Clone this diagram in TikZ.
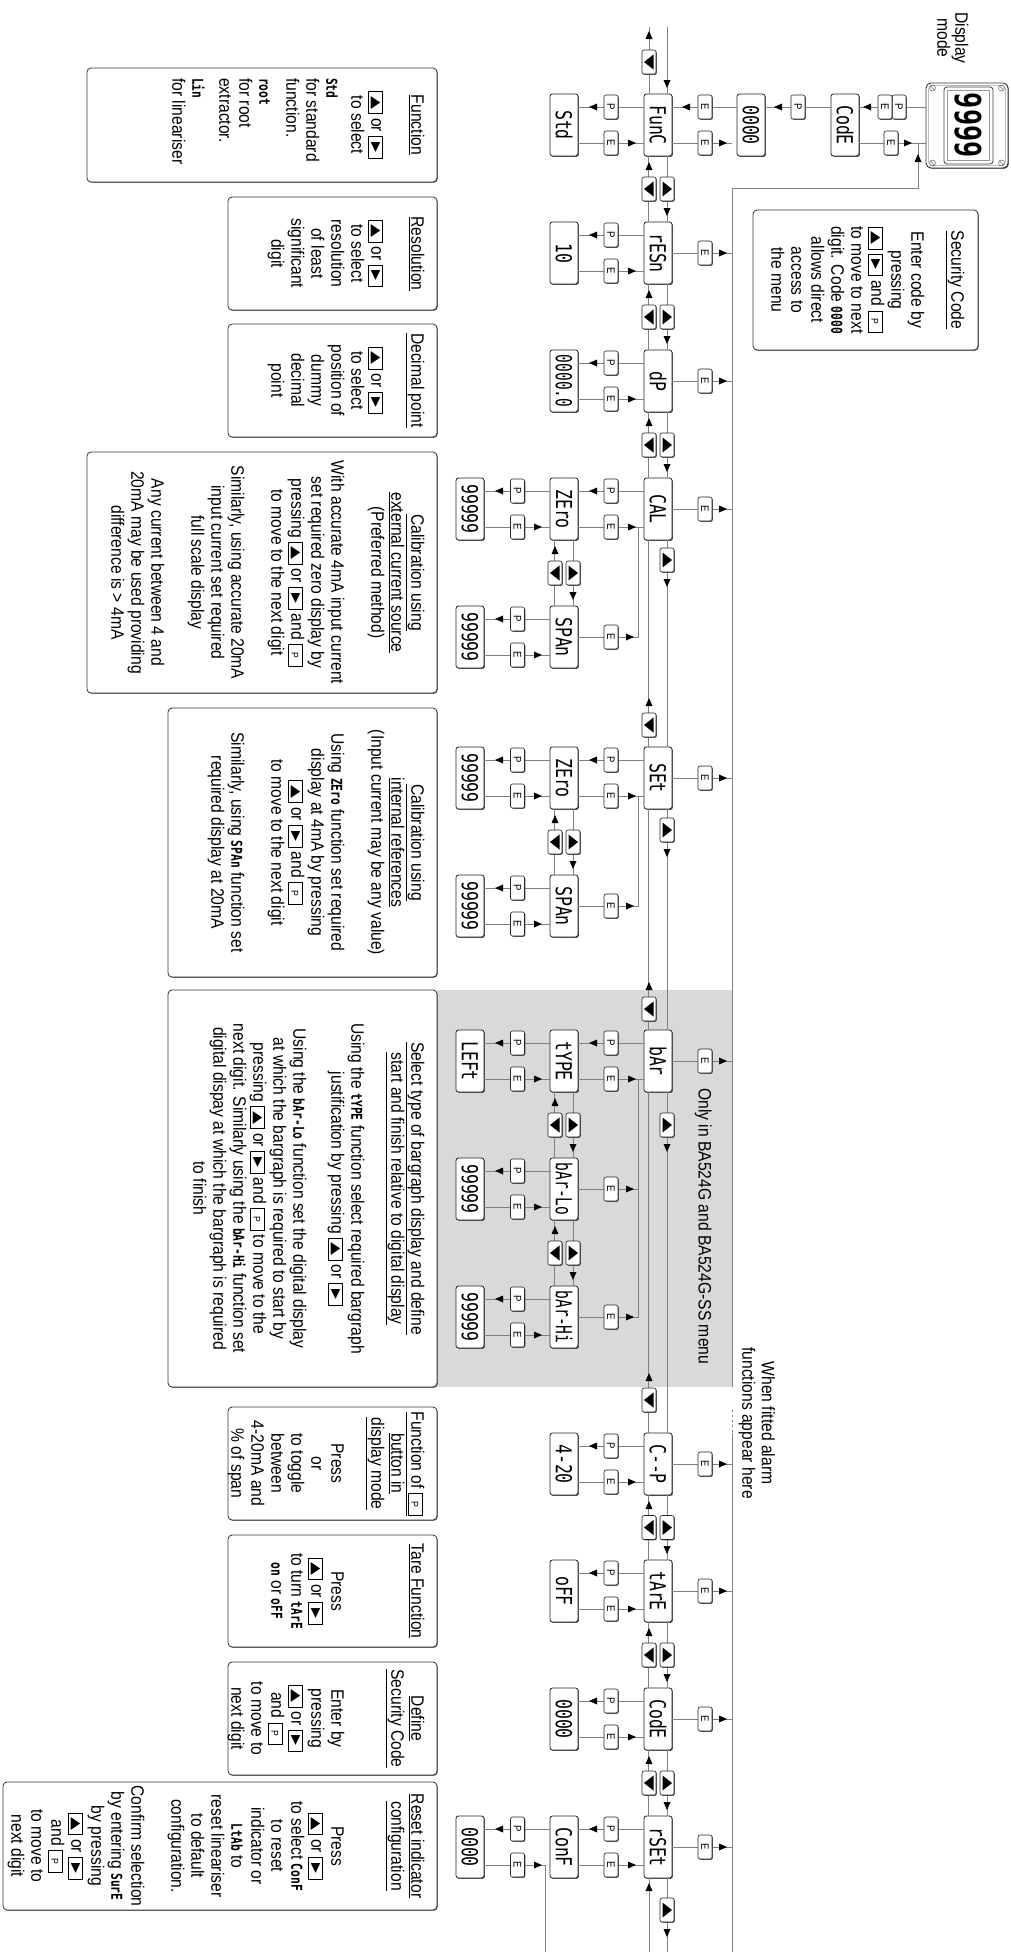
\documentclass[tikz,border=0pt]{standalone}
\usepackage{fontspec}
\usepackage{graphicx}
\setmainfont{Liberation Sans}[FakeStretch=0.87]
\newfontfamily\segfont{DejaVu Sans Mono}[FakeStretch=0.75]
\newfontfamily\symfont{DejaVu Sans}
\usetikzlibrary{calc,shadows}

\newcommand\sg[1]{{\segfont\bfseries\fontsize{15}{15}\selectfont #1}}
\newcommand\kbox[1]{{\setlength\fboxsep{1pt}\setlength\fboxrule{0.6pt}\fbox{\rule[-2pt]{0pt}{12pt}\makebox[19pt]{#1}}}}
\newcommand\ku{\kbox{\raisebox{1pt}{\resizebox{13pt}{8pt}{\symfont ▲}}}}
\newcommand\kr{\kbox{\raisebox{1pt}{\resizebox{10pt}{8pt}{\symfont ▶}}}}
\newcommand\kp{\kbox{\fontsize{10}{10}\selectfont P}}

\newcount\bcnt
\newcommand\btn[3]{\global\advance\bcnt by 1\relax
  \node[btn] (btn\the\bcnt) at ({#1},{#2}) {#3};}
\newcommand\tbtn[3]{\global\advance\bcnt by 1\relax
  \node[btn] (btn\the\bcnt) at ({#1},{#2}) {};
  \ifx u#3\fill ({#1-7.5},{#2+4.5}) -- ({#1+7.5},{#2+4.5}) -- ({#1},{#2-5}) -- cycle;
  \else\fill ({#1-7.5},{#2-4.5}) -- ({#1+7.5},{#2-4.5}) -- ({#1},{#2+5}) -- cycle;\fi}
\newcommand\tip[3]{%
  \ifx r#3\fill ({#1},{#2}) -- ({#1-8},{#2-3.5}) -- ({#1-8},{#2+3.5}) -- cycle;\fi
  \ifx l#3\fill ({#1},{#2}) -- ({#1+8},{#2-3.5}) -- ({#1+8},{#2+3.5}) -- cycle;\fi
  \ifx d#3\fill ({#1},{#2}) -- ({#1-3.5},{#2-8}) -- ({#1+3.5},{#2-8}) -- cycle;\fi
  \ifx u#3\fill ({#1},{#2}) -- ({#1-3.5},{#2+8}) -- ({#1+3.5},{#2+8}) -- cycle;\fi}
\newcommand\fwd[5]{\draw[conn] ($(#1.north east)+(0,5)$) -- ($(#2.north west)+(0,5)$);
  \tbtn{#4}{#3}{u}\tip{#5}{#3}{r}}
\newcommand\bck[5]{\draw[conn] ($(#2.south west)+(0,-5)$) -- ($(#1.south east)+(0,-5)$);
  \tbtn{#4}{#3}{d}\tip{#5}{#3}{l}}

\tikzset{
  conn/.style={draw=black!50, line width=0.75pt},
  menu/.style={draw=black!85, line width=0.8pt, fill=white, rounded corners=2.5pt,
    minimum width=62pt, minimum height=28pt, inner sep=0pt,
    font=\segfont\fontsize{22}{22}\selectfont,
    drop shadow={shadow xshift=0.9pt, shadow yshift=-0.9pt, fill=black!70, opacity=1}},
  btn/.style={draw=black!85, line width=0.6pt, fill=white, rounded corners=2pt,
    minimum width=24pt, minimum height=14pt, inner sep=0pt,
    font=\fontsize{11}{11}\selectfont,
    drop shadow={shadow xshift=0.8pt, shadow yshift=-0.8pt, fill=black!70, opacity=1}},
  txt/.style={align=center, inner sep=0pt, anchor=north, font=\fontsize{18}{20}\selectfont},
  frame/.style={draw=black!80, line width=0.8pt, rounded corners=4pt, fill=white,
    drop shadow={shadow xshift=0.8pt, shadow yshift=-0.8pt, fill=black!60, opacity=1}},
}

\begin{document}
\begin{tikzpicture}
\begin{scope}[shift={(1011pt,0pt)}, rotate=-90, transform shape, x=1pt, y=-1pt]
\path[use as bounding box] (0,0) rectangle (1952,1011);

% shaded bargraph region
\fill[black!15] (990,279) rectangle (1387,574);

% text frames
\draw[frame] (210,33) rectangle (350,258);
\draw[frame] (68,574) rectangle (182,924);
\draw[frame] (197,574) rectangle (310,783);
\draw[frame] (324,574) rectangle (437,783);
\draw[frame] (452,574) rectangle (693,924);
\draw[frame] (708,574) rectangle (977,843);
\draw[frame] (990,574) rectangle (1387,843);
\draw[frame] (1407,574) rectangle (1520,783);
\draw[frame] (1535,574) rectangle (1647,783);
\draw[frame] (1662,574) rectangle (1775,783);
\draw[frame] (1782,574) rectangle (1910,1008);

% texts
\node[txt] (tSec) at (280,46.5) {\underline{Security Code}\\[20pt] Enter code by\\ pressing\\ \ku\ \kr\ and \kp\\ to move to next\\ digit. Code \sg{0000}\\ allows direct\\ access to\\ the menu};
\node[txt] (tFun) at (125,586.5) {\underline{Function}\\[20pt] \ku\ or \kr\\ to select};
\node[txt, align=left, anchor=north west] (tFun2) at (78,673) {\sg{Std}\\ for standard\\ function.\\[7pt] \sg{root}\\ for root\\ extractor.\\[7pt] \sg{Lin}\\ for lineariser};
\node[txt] (tRes) at (253.5,586.5) {\underline{Resolution}\\[20pt] \ku\ or \kr\\ to select\\ resolution\\ of least\\ significant\\ digit};
\node[txt] (tDec) at (380.5,586.5) {\underline{Decimal point}\\[20pt] \ku\ or \kr\\ to select\\ position of\\ dummy\\ decimal\\ point};
\node[txt] (tCalE) at (572.5,586.5) {\underline{Calibration using}\\ \underline{external current source}\\ (Preferred method)\\[20pt] With accurate 4mA input current\\ set required zero display by\\ pressing \ku\ or \kr\ and \kp\\ to move to the next digit\\[20pt] Similarly, using accurate 20mA\\ input current set required\\ full scale display\\[20pt] Any current between 4 and\\ 20mA may be used providing\\ difference is > 4mA};
\node[txt] (tCalI) at (842.5,586.5) {\underline{Calibration using}\\ \underline{internal references}\\ (Input current may be any value)\\[20pt] Using \sg{ZEro} function set required\\ display at 4mA by pressing\\ \ku\ or \kr\ and \kp\\ to move to the next digit\\[20pt] Similarly, using \sg{SPAn} function set\\ required display at 20mA};
\node[txt] (tBar) at (1188.5,586.5) {\underline{Select type of bargraph display and define}\\ \underline{start and finish relative to digital display}\\[20pt] Using the \sg{tYPE} function select required bargraph\\ justification by pressing \ku\ or \kr\\[18pt] Using the \sg{bAr-Lo} function set the digital display\\ at which the bargraph is required to start by\\ pressing \ku\ or \kr\ and \kp\ to move to the\\ next digit. Similarly using the \sg{bAr-Hi} function set\\ digital dispay at which the bargraph is required\\ to finish};
\node[txt] (tFP) at (1463.5,586.5) {\underline{Function of \kp}\\ \underline{button in}\\ \underline{display mode}\\[20pt] Press\\ or\\ to toggle\\ between\\ 4-20mA and\\ \% of span};
\node[txt] (tTare) at (1591,586.5) {\underline{Tare Function}\\[60pt] Press\\ \ku\ or \kr\\ to turn \sg{tArE}\\ \sg{on} or \sg{oFF}};
\node[txt] (tDef) at (1718.5,586.5) {\underline{Define}\\ \underline{Security Code}\\[40pt] Enter by\\ pressing\\ \ku\ or \kr\\ and \kp\\ to move to\\ next digit};
\node[txt] (tRst) at (1846,586.5) {\underline{Reset indicator}\\ \underline{configuration}\\[40pt] Press\\ \ku\ or \kr\\ to select \sg{ConF}\\ to reset\\ indicator or\\ \sg{LtAb} to\\ reset lineariser\\ to default\\ configuration.\\[20pt] Confirm selection\\ by entering \sg{SurE}\\ by pressing\\ \ku\ or \kr\\ and \kp\\ to move to\\ next digit};

\node[txt, font=\fontsize{18}{18}\selectfont] (dmode) at (38,42.5) {Display\\ mode};
\node[txt, font=\fontsize{18}{19.5}\selectfont] (alarm) at (1423,236) {When fitted alarm\\ functions appear here};
\node[inner sep=0pt, anchor=base west, font=\fontsize{18}{20}\selectfont] (only) at (1088,312.5) {Only in BA524G and BA524G-SS menu};

% display unit
\node[draw=black!80, line width=0.9pt, fill=white, rounded corners=5pt, minimum width=85pt, minimum height=82pt,
  drop shadow={shadow xshift=0.9pt, shadow yshift=-0.9pt, fill=black!60, opacity=1}] (disp) at (125.5,44) {};
\draw[black!40, line width=0.5pt, rounded corners=4pt] (85.5,5.5) rectangle (165.5,82.5);
\draw[black!75, line width=0.8pt, rounded corners=3pt] (87,18) rectangle (164,67);
\draw[black!40, line width=0.5pt] (90.5,21.5) rectangle (160.5,63.5);
\node[inner sep=0pt, font=\segfont\bfseries\fontsize{36}{36}\selectfont] (dig) at (125.5,43) {9999};
\foreach \sx/\sy in {88/9.5,163/9.5,88/78.5,163/78.5}{
  \draw[black!60, line width=0.5pt] (\sx,\sy) circle[radius=3pt];
  \draw[black!60, line width=0.5pt] ({\sx-2},{\sy+2}) -- ({\sx+2},{\sy-2});}

% menu nodes
\node[menu] (CodEa) at (125,166) {CodE};
\node[menu] (Za) at (125,260) {0000};
\node[menu] (FunC) at (125,353) {FunC};
\node[menu] (rESn) at (253,353) {rESn};
\node[menu] (dP) at (381,353) {dP};
\node[menu] (CAL) at (509,353) {CAL};
\node[menu] (SEt) at (778,353) {SEt};
\node[menu] (bAr) at (1061,353) {bAr};
\node[menu] (CP) at (1464,353) {C--P};
\node[menu] (tArE) at (1591,353) {tArE};
\node[menu] (CodE) at (1719,353) {CodE};
\node[menu] (rSEt) at (1847,353) {rSEt};
\node[menu] (Std) at (125,447) {Std};
\node[menu] (ten) at (253,447) {10};
\node[menu] (dpv) at (381,447) {\scalebox{0.88}[1]{0000.0}};
\node[menu] (zA) at (509,447) {ZEro};
\node[menu] (sA) at (637,447) {SPAn};
\node[menu] (zB) at (778,447) {ZEro};
\node[menu] (sB) at (906,447) {SPAn};
\node[menu] (tYPE) at (1061,447) {tYPE};
\node[menu] (bLo) at (1189,447) {\scalebox{0.88}[1]{bAr-Lo}};
\node[menu] (bHi) at (1317,447) {\scalebox{0.88}[1]{bAr-Hi}};
\node[menu] (v420) at (1464,447) {4-20};
\node[menu] (oFF) at (1591,447) {oFF};
\node[menu] (Zb) at (1719,447) {0000};
\node[menu] (ConF) at (1847,447) {ConF};
\node[menu] (nA) at (509,541) {99999};
\node[menu] (nB) at (637,541) {99999};
\node[menu] (nC) at (778,541) {99999};
\node[menu] (nD) at (906,541) {99999};
\node[menu] (LEFt) at (1061,541) {LEFt};
\node[menu] (nE) at (1189,541) {99999};
\node[menu] (nF) at (1317,541) {99999};
\node[menu] (Zc) at (1847,541) {0000};

% bus
\coordinate (busL) at (188,279);
\coordinate (busR) at (1952,279);
\coordinate (jn) at (143,93);
\draw[conn] (busL) -- (1387,279);
\draw[conn, dash pattern=on 2pt off 3pt] (1410,279) -- (1433,279);
\draw[conn] (1433,279) -- (busR);
\draw[conn] (busL) |- (jn);
\tip{154}{93}{l}

% display <-> code
\draw[conn] ($(disp.south)+(-18.5,0)$) -- ($(CodEa.north)+(-18,0)$);
\btn{107}{112}{P}\btn{107}{126}{E}\tip{107}{148}{d}
\draw[conn] ($(CodEa.north)+(18,0)$) -- ($(disp.south)+(17.5,0)$);
\btn{143}{120}{E}\tip{143}{99}{u}
\draw[conn] ($(CodEa.south)+(-18,0)$) -- ($(Za.north)+(-18,0)$);
\btn{107}{213}{P}\tip{107}{237}{d}
\draw[conn] ($(Za.south)+(-18,0)$) -- ($(FunC.north)+(-18,0)$);
\btn{107}{306}{E}\tip{107}{329}{d}
\coordinate (fe) at ($(FunC.north)+(18,0)$);
\draw[conn] (fe) -- (fe |- busL);
\btn{143}{306}{E}\tip{143}{284}{u}

% main E returns to bus
\foreach \n/\x in {rESn/253, dP/381, CAL/509, SEt/778, bAr/1061, CP/1464, tArE/1591, CodE/1719, rSEt/1847}{
  \draw[conn] (\n.north) -- (\n.north |- busL);
  \btn{\x}{306}{E}\tip{\x}{284}{u}}

% main <-> sub
\foreach \m/\s/\x in {FunC/Std/125, rESn/ten/253, dP/dpv/381, CAL/zA/509, SEt/zB/778, bAr/tYPE/1061, CP/v420/1464, tArE/oFF/1591, CodE/Zb/1719, rSEt/ConF/1847}{
  \draw[conn] ($(\m.south)+(-18,0)$) -- ($(\s.north)+(-18,0)$);
  \btn{\x-18}{400}{P}\tip{\x-18}{422}{d}
  \draw[conn] ($(\s.north)+(18,0)$) -- ($(\m.south)+(18,0)$);
  \btn{\x+18}{400}{E}\tip{\x+18}{375}{u}}

% sub group returns
\coordinate (jA) at (527,373);
\coordinate (jB) at (796,373);
\coordinate (jC) at (1079,373);
\draw[conn] (sA.north) |- (jA); \btn{637}{400}{E}\tip{637}{377}{u}
\draw[conn] (sB.north) |- (jB); \btn{906}{400}{E}\tip{906}{377}{u}
\draw[conn] (bHi.north) |- (jC); \btn{1317}{400}{E}\tip{1317}{377}{u}
\draw[conn] (bLo.north) -- (bLo.north |- jC); \btn{1189}{400}{E}\tip{1189}{377}{u}

% sub <-> third
\foreach \s/\t/\x in {zA/nA/509, sA/nB/637, zB/nC/778, sB/nD/906, tYPE/LEFt/1061, bLo/nE/1189, bHi/nF/1317}{
  \draw[conn] ($(\s.south)+(-18,0)$) -- ($(\t.north)+(-18,0)$);
  \btn{\x-18}{493.5}{P}\tip{\x-18}{516}{d}
  \draw[conn] ($(\t.north)+(18,0)$) -- ($(\s.south)+(18,0)$);
  \btn{\x+18}{493.5}{E}\tip{\x+18}{469}{u}}
\draw[conn] ($(ConF.south)+(-18,0)$) -- ($(Zc.north)+(-18,0)$);
\btn{1829}{493.5}{P}\tip{1829}{516}{d}
\coordinate (endR) at (1952,466);
\draw[conn] ($(Zc.north)+(18,0)$) |- (endR);
\btn{1865}{493.5}{E}\tip{1865}{469}{u}

% main row navigation
\fwd{FunC}{rESn}{344}{189}{216}\bck{FunC}{rESn}{362}{189}{162}
\fwd{rESn}{dP}{344}{317}{344}\bck{rESn}{dP}{362}{317}{290}
\fwd{dP}{CAL}{344}{445}{472}\bck{dP}{CAL}{362}{445}{418}
\fwd{CAL}{SEt}{344}{560}{587}\bck{CAL}{SEt}{362}{725}{698}
\fwd{SEt}{bAr}{344}{830}{857}\bck{SEt}{bAr}{362}{1009}{982}
\fwd{bAr}{CP}{344}{1125}{1152}\bck{bAr}{CP}{362}{1400}{1373}
\fwd{CP}{tArE}{344}{1527.5}{1554}\bck{CP}{tArE}{362}{1527.5}{1501}
\fwd{tArE}{CodE}{344}{1655}{1682}\bck{tArE}{CodE}{362}{1655}{1628}
\fwd{CodE}{rSEt}{344}{1783}{1810}\bck{CodE}{rSEt}{362}{1783}{1756}

% sub row navigation
\fwd{zA}{sA}{438}{573}{600}\bck{zA}{sA}{456}{573}{546}
\fwd{zB}{sB}{438}{842}{869}\bck{zB}{sB}{456}{842}{815}
\fwd{tYPE}{bLo}{438}{1125}{1152}\bck{tYPE}{bLo}{456}{1125}{1098}
\fwd{bLo}{bHi}{438}{1253}{1280}\bck{bLo}{bHi}{456}{1253}{1226}

% wrap-around stubs
\coordinate (inL) at (27,344);
\coordinate (outL) at (27,362);
\draw[conn] (inL) -- (FunC.north west |- inL); \tip{88}{344}{r}
\draw[conn] (FunC.south west |- outL) -- (outL); \tbtn{62}{362}{d}\tip{31}{362}{l}
\coordinate (outR) at (1952,344);
\coordinate (inR) at (1952,362);
\draw[conn] (rSEt.north east |- outR) -- (outR); \tbtn{1910}{344}{u}\tip{1937}{344}{r}
\draw[conn] (inR) -- (rSEt.south east |- inR); \tip{1883}{362}{l}
\end{scope}
\end{tikzpicture}
\end{document}
